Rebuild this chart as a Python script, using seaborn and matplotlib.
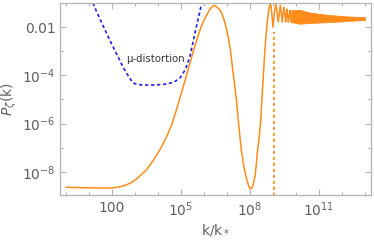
import matplotlib
matplotlib.use("Agg")
import matplotlib.pyplot as plt
import numpy as np
import seaborn as sns
from matplotlib.ticker import FixedLocator, FixedFormatter, NullFormatter

# power spectrum (log10 values)
pk_logk = [0.0, 1.0, 1.6, 2.0, 2.35, 2.5, 2.65, 2.8, 2.93, 3.07, 3.2, 3.35,
           3.51, 3.65, 3.8, 3.95, 4.09, 4.2, 4.4, 4.6, 4.8, 5.0, 5.2, 5.39,
           5.6, 5.83, 6.0, 6.12, 6.27, 6.36, 6.43, 6.50, 6.62, 6.70, 6.78, 6.85,
           6.92, 6.99, 7.05, 7.15, 7.25, 7.35, 7.42, 7.49, 7.57, 7.64, 7.75,
           7.86, 7.95, 8.03, 8.12, 8.22, 8.27, 8.32, 8.40, 8.47, 8.55, 8.65,
           8.72, 8.78, 8.83, 8.88, 8.92, 8.96, 9.0, 9.06, 9.13, 9.18, 9.23,
           9.28, 9.32, 9.36, 9.40, 9.44, 9.48, 9.52, 9.55, 9.58, 9.61, 9.64,
           9.67, 9.70, 9.74, 9.79]
pk_logp = [-8.64, -8.66, -8.67, -8.67, -8.62, -8.58, -8.53, -8.47, -8.39, -8.30,
           -8.18, -8.05, -7.91, -7.73, -7.52, -7.30, -7.08, -6.88, -6.50, -6.05,
           -5.45, -4.80, -4.15, -3.50, -2.80, -2.12, -1.72, -1.50, -1.25, -1.15,
           -1.11, -1.12, -1.22, -1.30, -1.44, -1.62, -1.85, -2.12, -2.40, -2.95,
           -3.75, -4.50, -5.10, -5.84, -6.60, -7.20, -7.85, -8.32, -8.60, -8.71,
           -8.60, -8.19, -7.75, -7.20, -6.60, -5.84, -4.50, -2.95, -2.10, -1.55,
           -1.20, -1.00, -1.15, -1.55, -2.00, -1.40, -1.05, -1.40, -1.79, -1.40,
           -1.09, -1.40, -1.79, -1.45, -1.17, -1.50, -1.79, -1.50, -1.26, -1.55,
           -1.79, -1.55, -1.30, -1.80]

# dense oscillation band (upper / lower envelope)
band_logk = [9.79, 9.85, 10.17, 10.52, 11.0, 11.48, 12.0, 12.5, 13.0]
band_hi = [-1.30, -1.30, -1.28, -1.38, -1.45, -1.50, -1.54, -1.57, -1.59]
band_lo = [-1.80, -1.80, -1.86, -1.83, -1.81, -1.79, -1.76, -1.73, -1.71]

# mu-distortion bound
mu_logk = [1.17, 1.5, 1.91, 2.2, 2.48, 2.7, 2.91, 3.1, 3.35, 3.87, 4.39, 4.7,
           4.96, 5.2, 5.39, 5.61, 5.90]
mu_logp = [-1.0, -1.7, -2.54, -3.1, -3.65, -4.0, -4.31, -4.38, -4.40, -4.40,
           -4.36, -4.28, -4.11, -3.75, -3.23, -2.25, -1.02]

# vertical cutoff
cut_logk = [9.05, 9.05]
cut_logp = [-10.0, -2.2]

x_major = [1e2, 1e5, 1e8, 1e11]
x_labels = ["100", "$10^5$", "$10^8$", "$10^{11}$"]
y_major = [1e-8, 1e-6, 1e-4, 1e-2]
y_labels = ["$10^{-8}$", "$10^{-6}$", "$10^{-4}$", "0.01"]

ORANGE = "#ff8c1a"
BLUE = "#1f1fe8"
GREY = "#606060"
FRAME = "#b4b4b4"

sns.set_style("ticks")
plt.rcParams["font.family"] = ["DejaVu Sans"]
plt.rcParams["mathtext.fontset"] = "dejavusans"

fig = plt.figure(figsize=(3.74, 2.4), dpi=100)
ax = fig.add_axes([0.160, 0.1875, 0.832, 0.80])

k = 10 ** np.array(pk_logk)
p = 10 ** np.array(pk_logp)
sns.lineplot(x=k, y=p, ax=ax, color=ORANGE, lw=1.1, estimator=None, sort=False)
ax.fill_between(10 ** np.array(band_logk), 10 ** np.array(band_lo),
                10 ** np.array(band_hi), color=ORANGE, lw=0.6)
sns.lineplot(x=10 ** np.array(mu_logk), y=10 ** np.array(mu_logp), ax=ax,
             color=BLUE, lw=1.2, estimator=None, sort=False,
             linestyle=(0, (2, 1.6)))
sns.lineplot(x=10 ** np.array(cut_logk), y=10 ** np.array(cut_logp), ax=ax,
             color=ORANGE, lw=1.2, estimator=None, sort=False,
             linestyle=(0, (2, 1.6)))

ax.set_xscale("log")
ax.set_yscale("log")
ax.set_xlim(10 ** -0.26, 10 ** 13.26)
ax.set_ylim(10 ** -8.96, 10 ** -1.0)

ax.xaxis.set_major_locator(FixedLocator(x_major))
ax.xaxis.set_major_formatter(FixedFormatter(x_labels))
ax.xaxis.set_minor_locator(FixedLocator([10.0 ** e for e in range(0, 14)]))
ax.xaxis.set_minor_formatter(NullFormatter())
ax.yaxis.set_major_locator(FixedLocator(y_major))
ax.yaxis.set_major_formatter(FixedFormatter(y_labels))
ax.yaxis.set_minor_locator(FixedLocator([10.0 ** e for e in range(-9, 0)]))
ax.yaxis.set_minor_formatter(NullFormatter())

ax.tick_params(which="both", direction="in", top=True, right=True,
               color=FRAME, labelcolor=GREY, labelsize=10, width=0.8)
ax.tick_params(which="major", length=4)
ax.tick_params(which="minor", length=2.5)
ax.tick_params(axis="x", pad=4)
ax.tick_params(axis="y", pad=3)
for s in ax.spines.values():
    s.set_color(FRAME)
    s.set_linewidth(0.9)

ax.text(10 ** 3.89, 10 ** -3.33, "μ-distortion", fontsize=7.3, color="#333333",
        ha="center", va="center")

ax.set_xlabel("k/k$_*$", fontsize=10, color=GREY, labelpad=2)
ax.set_ylabel(r"$P_{\zeta}\mathrm{(k)}$", fontsize=10, color=GREY, labelpad=2)

fig.savefig("out.png", dpi=100)
